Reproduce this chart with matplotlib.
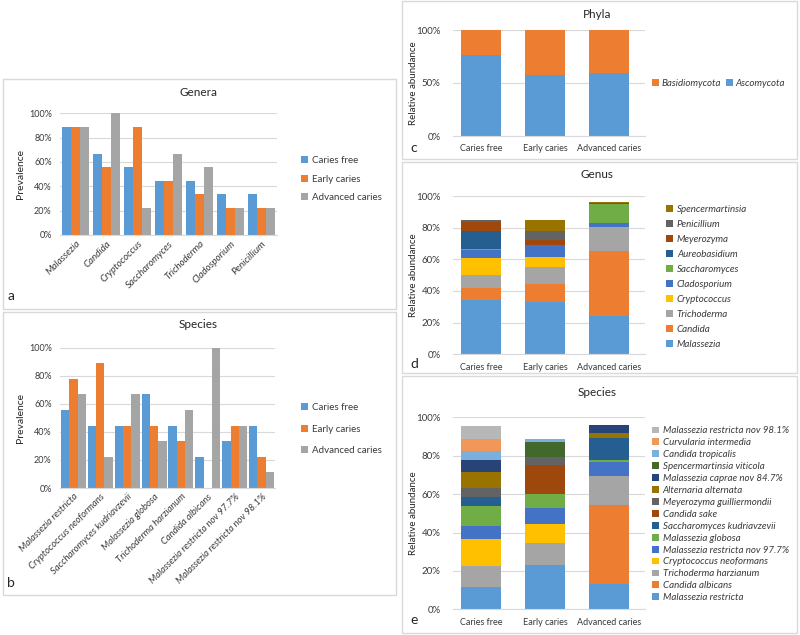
import numpy as np
import matplotlib
matplotlib.use('Agg')
import matplotlib.pyplot as plt
from matplotlib.patches import Rectangle
from matplotlib.ticker import PercentFormatter

plt.rcParams['font.family'] = ['Lato', 'DejaVu Sans']

##### data

groups = ['Caries free', 'Early caries', 'Advanced caries']

genera_names = ['Malassezia', 'Candida', 'Cryptococcus', 'Saccharomyces',
                'Trichoderma', 'Cladosporium', 'Penicillium']
genera_free = [88.9, 66.7, 55.6, 44.4, 44.4, 33.3, 33.3]
genera_early = [88.9, 55.6, 88.9, 44.4, 33.3, 22.2, 22.2]
genera_adv = [88.9, 100.0, 22.2, 66.7, 55.6, 22.2, 22.2]

species_names = ['Malassezia restricta', 'Cryptococcus neoformans',
                 'Saccharomyces kudriavzevii', 'Malassezia globosa',
                 'Trichoderma harzianum', 'Candida albicans',
                 'Malassezia restricta nov 97.7%', 'Malassezia restricta nov 98.1%']
species_free = [55.6, 44.4, 44.4, 66.7, 44.4, 22.2, 33.3, 44.4]
species_early = [77.8, 88.9, 44.4, 44.4, 33.3, 0.0, 44.4, 22.2]
species_adv = [66.7, 22.2, 66.7, 33.3, 55.6, 100.0, 44.4, 11.1]

phyla_asco = [76.4, 57.5, 59.7]
phyla_basidio = [23.6, 42.5, 40.3]

# stacked bottom -> top
genus_names = ['Malassezia', 'Candida', 'Trichoderma', 'Cryptococcus', 'Cladosporium',
               'Saccharomyces', 'Aureobasidium', 'Meyerozyma', 'Penicillium',
               'Spencermartinsia']
genus_free = [34.3, 7.8, 8.0, 10.5, 5.5, 0.5, 11.2, 5.7, 1.2, 0.0]
genus_early = [33.3, 11.1, 10.5, 6.3, 7.8, 0.0, 0.0, 3.2, 5.9, 6.7]
genus_adv = [24.2, 41.1, 15.3, 0.0, 2.6, 11.8, 0.0, 0.3, 0.0, 0.8]

sp_names = ['Malassezia restricta', 'Candida albicans', 'Trichoderma harzianum',
            'Cryptococcus neoformans', 'Malassezia restricta nov 97.7%',
            'Malassezia globosa', 'Saccharomyces kudriavzevii', 'Candida sake',
            'Meyerozyma guilliermondii', 'Alternaria alternata',
            'Malassezia caprae nov 84.7%', 'Spencermartinsia viticola',
            'Candida tropicalis', 'Curvularia intermedia',
            'Malassezia restricta nov 98.1%']
sp_free = [11.5, 0.0, 11.1, 13.9, 6.9, 10.6, 4.3, 0.0, 5.1, 8.0, 6.4, 0.0, 4.8, 6.1, 6.8]
sp_early = [23.1, 0.0, 11.6, 9.6, 8.7, 6.9, 0.0, 15.3, 4.3, 0.0, 0.0, 7.7, 1.7, 0.0, 0.0]
sp_adv = [13.4, 40.9, 15.1, 0.0, 7.5, 0.9, 11.3, 0.0, 0.0, 2.6, 4.1, 0.0, 0.0, 0.0, 0.0]

##### style

office = ['#5B9BD5', '#ED7D31', '#A5A5A5', '#FFC000', '#4472C4', '#70AD47',
          '#255E91', '#9E480E', '#636363', '#997300', '#264478', '#43682B',
          '#7CAFDD', '#F1975A', '#B7B7B7']
grid_c = '#d9d9d9'
txt_c = '#3a3a3a'
W, H = 800, 635

fig = plt.figure(figsize=(W / 100, H / 100), dpi=100)


def rect(x0, y0, x1, y1):
    return [x0 / W, 1 - y1 / H, (x1 - x0) / W, (y1 - y0) / H]


def fxy(x, y):
    return (x / W, 1 - y / H)


def frame(x0, y0, x1, y1):
    fig.patches.append(Rectangle(fxy(x0, y1), (x1 - x0) / W, (y1 - y0) / H,
                                 transform=fig.transFigure, fill=False,
                                 edgecolor=grid_c, lw=1))


def style_ax(ax, step, ysize=6.5, ypad=6, xpad=3):
    ax.set_ylim(0, 100)
    ax.set_yticks(np.arange(0, 101, step))
    ax.yaxis.set_major_formatter(PercentFormatter(decimals=0))
    ax.grid(axis='y', color=grid_c, lw=0.8)
    ax.set_axisbelow(True)
    for s in ['top', 'right', 'left']:
        ax.spines[s].set_visible(False)
    ax.spines['bottom'].set_color(grid_c)
    ax.tick_params(length=0, colors=txt_c)
    ax.tick_params(axis='y', labelsize=ysize, pad=ypad)
    ax.tick_params(axis='x', labelsize=6.5, pad=xpad)


def label(x, y, s, **kw):
    fig.text(x / W, 1 - y / H, s, ha='center', va='center', color='#262626', **kw)


##### panel frames
frame(3, 79, 396, 309)
frame(3, 312, 396, 595)
frame(402, 1, 797, 159)
frame(402, 162, 797, 373)
frame(402, 376, 797, 633)

##### a) genera prevalence
ax = fig.add_axes(rect(60, 113.3, 277, 235))
x = np.arange(len(genera_names))
bw = 0.3
for k, (vals, name) in enumerate(zip([genera_free, genera_early, genera_adv], groups)):
    ax.bar(x + (k - 1) * bw, vals, bw, color=office[k], label=name)
style_ax(ax, 20)
ax.set_xlim(-0.5, len(genera_names) - 0.5)
ax.set_xticks(x)
ax.set_xticklabels(genera_names, rotation=45, ha='right', rotation_mode='anchor',
                   style='italic', fontsize=7)
ax.legend(loc='center left', bbox_to_anchor=(1.07, 0.46), frameon=False, fontsize=7,
          handlelength=0.7, handleheight=0.7, handletextpad=0.4, labelspacing=0.95,
          labelcolor=txt_c)
label(199, 92, 'Genera', fontsize=8.5)
label(20, 174, 'Prevalence', fontsize=7.5, rotation=90)
label(11, 296, 'a', fontsize=10)

##### b) species prevalence
ax = fig.add_axes(rect(60, 347.7, 275, 488))
x = np.arange(len(species_names))
bw = 0.31
for k, (vals, name) in enumerate(zip([species_free, species_early, species_adv], groups)):
    ax.bar(x + (k - 1) * bw, vals, bw, color=office[k], label=name)
style_ax(ax, 20)
ax.set_xlim(-0.5, len(species_names) - 0.5)
ax.set_xticks(x)
ax.set_xticklabels(species_names, rotation=45, ha='right', rotation_mode='anchor',
                   style='italic', fontsize=6.8)
ax.legend(loc='center left', bbox_to_anchor=(1.08, 0.42), frameon=False, fontsize=7,
          handlelength=0.7, handleheight=0.7, handletextpad=0.4, labelspacing=1.3,
          labelcolor=txt_c)
label(198, 325, 'Species', fontsize=8.5)
label(20, 418, 'Prevalence', fontsize=7.5, rotation=90)
label(11, 583, 'b', fontsize=10)

##### c) phyla
xg = np.arange(len(groups))
ax = fig.add_axes(rect(453, 30, 645, 136))
b1 = ax.bar(xg, phyla_asco, 0.625, color=office[0], label='Ascomycota')
b2 = ax.bar(xg, phyla_basidio, 0.625, bottom=phyla_asco, color=office[1], label='Basidiomycota')
style_ax(ax, 50, ysize=7, ypad=9, xpad=6)
ax.set_xlim(-0.44, 2.56)
ax.set_xticks(xg)
ax.set_xticklabels(groups)
ax.legend([b2, b1], ['Basidiomycota', 'Ascomycota'], ncol=2, loc='center left',
          bbox_to_anchor=(0.99, 0.5), frameon=False,
          prop={'style': 'italic', 'size': 7}, handlelength=0.7, handleheight=0.7,
          handletextpad=0.3, columnspacing=0.5, labelcolor=txt_c)
label(597, 14, 'Phyla', fontsize=8.5)
label(413, 83, 'Relative abundance', fontsize=7, rotation=90)
label(414, 148, 'c', fontsize=10)

##### d) genus relative abundance
ax = fig.add_axes(rect(453, 196, 645, 354.3))
data = np.array([genus_free, genus_early, genus_adv])
bottom = np.zeros(len(groups))
handles = []
for i, name in enumerate(genus_names):
    handles.append(ax.bar(xg, data[:, i], 0.625, bottom=bottom, color=office[i], label=name))
    bottom += data[:, i]
style_ax(ax, 20, ysize=7, ypad=9, xpad=6)
ax.set_xlim(-0.44, 2.56)
ax.set_xticks(xg)
ax.set_xticklabels(groups)
ax.legend(handles[::-1], genus_names[::-1], loc='center left', bbox_to_anchor=(1.065, 0.49),
          frameon=False, prop={'style': 'italic', 'size': 7}, handlelength=0.7,
          handleheight=0.7, handletextpad=0.4, labelspacing=0.62, labelcolor=txt_c)
label(597, 175, 'Genus', fontsize=8.5)
label(413, 275, 'Relative abundance', fontsize=7, rotation=90)
label(414, 364, 'd', fontsize=10)

##### e) species relative abundance
ax = fig.add_axes(rect(453, 417.3, 645, 609.3))
data = np.array([sp_free, sp_early, sp_adv])
bottom = np.zeros(len(groups))
handles = []
for i, name in enumerate(sp_names):
    handles.append(ax.bar(xg, data[:, i], 0.625, bottom=bottom, color=office[i], label=name))
    bottom += data[:, i]
style_ax(ax, 20, ysize=7, ypad=9, xpad=6)
ax.set_xlim(-0.44, 2.56)
ax.set_xticks(xg)
ax.set_xticklabels(groups)
ax.legend(handles[::-1], sp_names[::-1], loc='center left', bbox_to_anchor=(0.99, 0.495),
          frameon=False, prop={'style': 'italic', 'size': 7}, handlelength=0.7,
          handleheight=0.7, handletextpad=0.4, labelspacing=0.3, labelcolor=txt_c)
label(597, 392, 'Species', fontsize=8.5)
label(413, 513, 'Relative abundance', fontsize=7, rotation=90)
label(414, 620, 'e', fontsize=10)

fig.savefig('out.png', dpi=100)
